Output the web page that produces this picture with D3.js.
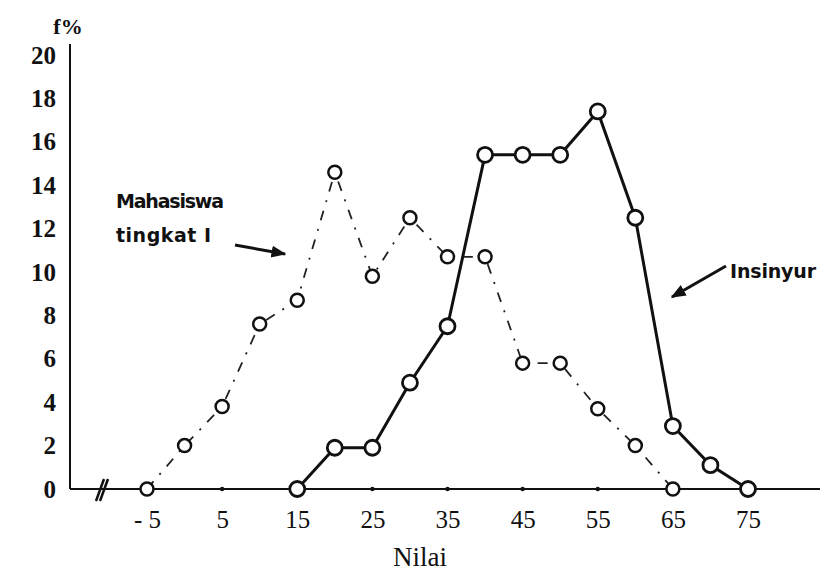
<!DOCTYPE html>
<html><head><meta charset="utf-8">
<script src="https://cdn.jsdelivr.net/npm/d3@7"></script>
<style>html,body{margin:0;padding:0;background:#fff;}</style>
</head><body>
<svg id="c" width="823" height="576"></svg>
<script>
// Data
const nilaiMahasiswa = [-5, 0, 5, 10, 15, 20, 25, 30, 35, 40, 45, 50, 55, 60, 65];
const fMahasiswa     = [0, 2, 3.8, 7.6, 8.7, 14.6, 9.8, 12.5, 10.7, 10.7, 5.8, 5.8, 3.7, 2.0, 0];
const nilaiInsinyur  = [15, 20, 25, 30, 35, 40, 45, 50, 55, 60, 65, 70, 75];
const fInsinyur      = [0, 1.9, 1.9, 4.9, 7.5, 15.4, 15.4, 15.4, 17.4, 12.5, 2.9, 1.1, 0];
const xTicks = [-5, 5, 15, 25, 35, 45, 55, 65, 75];
const yTicks = [0, 2, 4, 6, 8, 10, 12, 14, 16, 18, 20];

const svg = d3.select("#c");
const x = d3.scaleLinear().domain([-5, 75]).range([147, 748]);
const y = d3.scaleLinear().domain([0, 20]).range([489, 55]);
const axisX0 = 70;

svg.append("defs").append("marker").attr("id","arr").attr("viewBox","0 0 10 10")
  .attr("refX",9).attr("refY",5).attr("markerWidth",5).attr("markerHeight",5)
  .attr("orient","auto").append("path").attr("d","M0,1 L10,5 L0,9 Z").attr("fill","#111");

// y axis
const yAxis = d3.axisLeft(y).tickValues(yTicks).tickSize(0).tickPadding(14);
const gy = svg.append("g").attr("transform",`translate(${axisX0},0)`).call(yAxis);
gy.select(".domain").remove();
gy.selectAll("text").attr("font-family","Liberation Serif").attr("font-size",25)
  .attr("font-weight","bold").attr("fill","#111");
svg.append("line").attr("x1",axisX0).attr("x2",axisX0).attr("y1",44).attr("y2",y(0))
  .attr("stroke","#111").attr("stroke-width",2);

// x axis
const xAxis = d3.axisBottom(x).tickValues(xTicks).tickSize(0).tickPadding(21)
  .tickFormat(d => d < 0 ? "- " + Math.abs(d) : d);
const gx = svg.append("g").attr("transform",`translate(0,${y(0)})`).call(xAxis);
gx.select(".domain").remove();
gx.selectAll("text").attr("font-family","Liberation Serif").attr("font-size",25).attr("fill","#111");
svg.append("line").attr("x1",axisX0).attr("x2",820).attr("y1",y(0)).attr("y2",y(0))
  .attr("stroke","#111").attr("stroke-width",2);
svg.selectAll(".tdot").data(xTicks).enter().append("circle")
  .attr("cx",d=>x(d)).attr("cy",y(0)).attr("r",2.2).attr("fill","#111");

// axis break
svg.append("path").attr("d",`M96,${y(0)+12} L104,${y(0)-10} M100,${y(0)+12} L108,${y(0)-10}`)
  .attr("stroke","#111").attr("stroke-width",2.5).attr("fill","none");

svg.append("text").attr("x",68).attr("y",34).attr("text-anchor","middle")
  .attr("font-family","Liberation Serif").attr("font-size",22).attr("font-weight","bold")
  .attr("fill","#111").text("f%");

svg.append("text").attr("x",420).attr("y",566).attr("text-anchor","middle")
  .attr("font-family","Liberation Serif").attr("font-size",27).attr("fill","#111").text("Nilai");

const line = d3.line().x(d=>x(d[0])).y(d=>y(d[1]));
const dM = nilaiMahasiswa.map((v,i)=>[v,fMahasiswa[i]]);
const dI = nilaiInsinyur.map((v,i)=>[v,fInsinyur[i]]);

svg.append("path").datum(dM).attr("d",line).attr("fill","none").attr("stroke","#222")
  .attr("stroke-width",1.8).attr("stroke-dasharray","10,9,2,9");
svg.append("path").datum(dI).attr("d",line).attr("fill","none").attr("stroke","#111")
  .attr("stroke-width",3);

svg.selectAll(".pm").data(dM).enter().append("circle")
  .attr("cx",d=>x(d[0])).attr("cy",d=>y(d[1])).attr("r",6.5)
  .attr("fill","#fff").attr("stroke","#111").attr("stroke-width",2.5);
svg.selectAll(".pi").data(dI).enter().append("circle")
  .attr("cx",d=>x(d[0])).attr("cy",d=>y(d[1])).attr("r",7.5)
  .attr("fill","#fff").attr("stroke","#111").attr("stroke-width",2.8);

const ann = svg.append("g").attr("font-family","DejaVu Sans").attr("font-weight","bold")
  .attr("font-size",19).attr("fill","#111");
ann.append("text").attr("x",116).attr("y",208).attr("textLength",108).text("Mahasiswa");
ann.append("text").attr("x",116).attr("y",242).attr("textLength",95).text("tingkat I");
ann.append("text").attr("x",730).attr("y",278).attr("textLength",86).text("Insinyur");

svg.append("line").attr("x1",235).attr("y1",245).attr("x2",285).attr("y2",254)
  .attr("stroke","#111").attr("stroke-width",3).attr("marker-end","url(#arr)");
svg.append("line").attr("x1",726).attr("y1",266).attr("x2",672).attr("y2",297)
  .attr("stroke","#111").attr("stroke-width",3).attr("marker-end","url(#arr)");
</script>
</body></html>
